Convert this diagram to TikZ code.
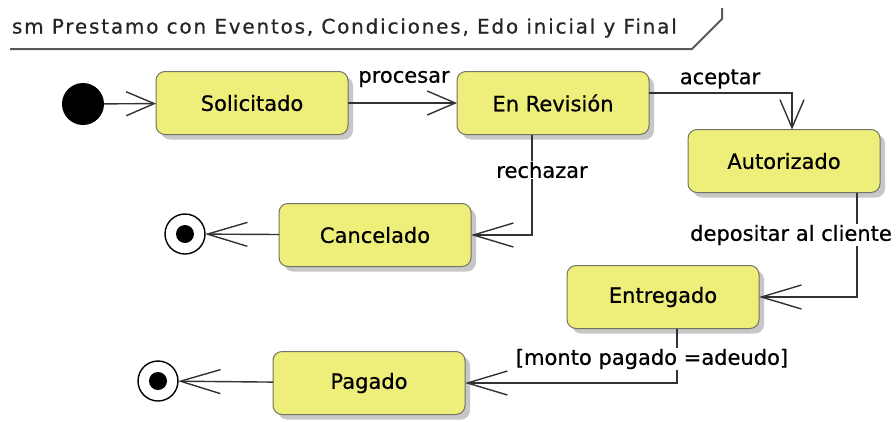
\documentclass[tikz,border=0pt]{standalone}
\usepackage{fontspec}
\setmainfont{DejaVu Sans}[FakeBold=0.6]
\newfontfamily\titlefont{DejaVu Sans}[LetterSpace=9,FakeBold=0.6]
\usetikzlibrary{arrows.meta,shadows}
\definecolor{stfill}{RGB}{238,238,122}
\definecolor{stborder}{RGB}{115,115,100}
\definecolor{linec}{RGB}{50,50,50}

\begin{document}
\begin{tikzpicture}[x=1pt,y=-1pt,every node/.style={outer sep=0pt,font=\fontsize{21}{25}\selectfont}]
\tikzstyle{state}=[draw=stborder,fill=stfill,line width=1pt,rounded corners=9pt,minimum width=192pt,minimum height=63pt,drop shadow={shadow xshift=5pt,shadow yshift=-5pt,fill=black!22,opacity=1}]
\tikzstyle{trans}=[draw=linec,line width=1.4pt,-{Straight Barb[length=28pt,width=24pt,line width=1.4pt]}]
\tikzstyle{translong}=[trans,-{Straight Barb[length=40pt,width=24pt,line width=1.4pt]}]
\tikzstyle{lbl}=[fill=white,inner sep=1pt]
\useasboundingbox (0,0) rectangle (896,421);

% frame title
\node (title) [anchor=west,inner sep=1pt,font=\titlefont\fontsize{20}{24}\selectfont,text=black!85] at (11,28) {sm Prestamo con Eventos, Condiciones, Edo inicial y Final};
\draw [draw=black!65,line width=2pt] (10,49) -- (692,49) -- (722,19) -- (722,8);

% states
\node (init) [circle,fill=black,minimum size=42pt,inner sep=0pt] at (83,104) {};
\node (sol) [state] at (252,103) {Solicitado};
\node (rev) [state] at (553,103) {En Revisión};
\node (autz) [state] at (784,161) {Autorizado};
\node (canc) [state] at (375,235) {Cancelado};
\node (ent) [state] at (663,297) {Entregado};
\node (pag) [state] at (369,383) {Pagado};
\node (fin1) [circle,draw=black,line width=1.4pt,minimum size=40pt,inner sep=0pt] at (185,234) {};
\node (fin1dot) [circle,fill=black,minimum size=18pt,inner sep=0pt] at (fin1) {};
\node (fin2) [circle,draw=black,line width=1.4pt,minimum size=40pt,inner sep=0pt] at (158,381) {};
\node (fin2dot) [circle,fill=black,minimum size=18pt,inner sep=0pt] at (fin2) {};

% bends
\coordinate (acc) at (792,93);
\coordinate (rch) at (532,237);
\coordinate (dep) at (857,302);
\coordinate (mnt) at (677,380);

% transitions
\draw [trans] (init) -- (sol);
\draw [trans] (sol) -- (rev);
\draw [trans] (rev.east |- acc) -| (acc |- autz.north);
\draw [translong] (rch |- rev.south) |- (canc.east);
\draw [translong] (canc) -- (fin1);
\draw [translong] (dep |- autz.south) |- (ent.east);
\draw [translong] (mnt |- ent.south) |- (pag.east);
\draw [translong] (pag) -- (fin2);

% labels
\node (proc_lbl) [lbl] at (404,79) {procesar};
\node (acc_lbl) [lbl] at (720,79) {aceptar};
\node (rch_lbl) [lbl] at (542,170) {rechazar};
\node (dep_lbl) [lbl] at (791,235) {depositar al cliente};
\node (mnt_lbl) [lbl] at (652,359) {[monto pagado =adeudo]};

\end{tikzpicture}
\end{document}
